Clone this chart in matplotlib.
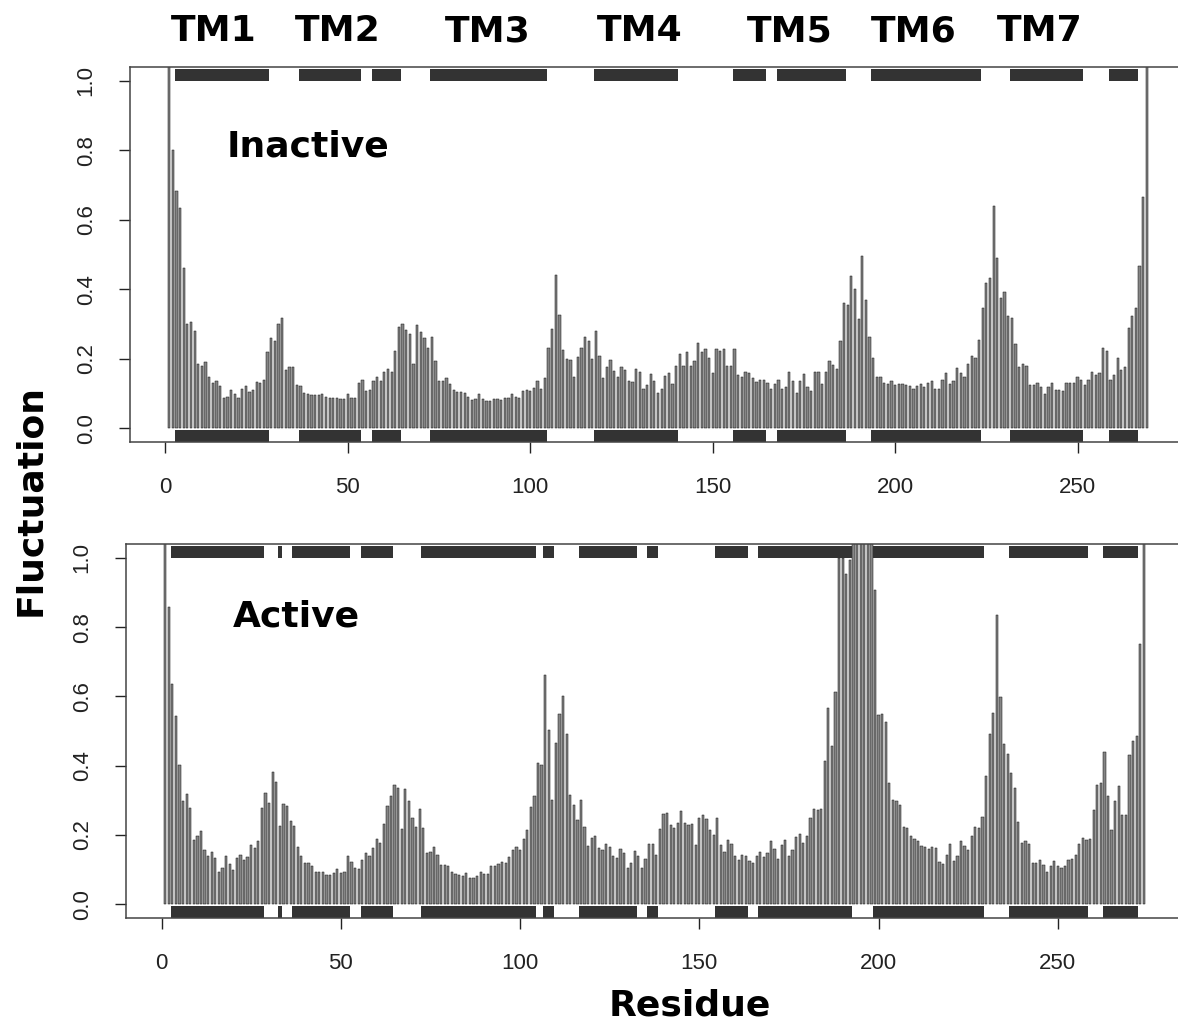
import matplotlib
matplotlib.use('Agg')
import numpy as np
import matplotlib.pyplot as plt
from matplotlib.patches import Rectangle


# per-residue fluctuations (values above 1 are clipped by the axes)
inactive = [
    1.5, 0.80, 0.684, 0.633, 0.46, 0.30, 0.306, 0.28, 0.186, 0.18,
    0.19, 0.148, 0.13, 0.136, 0.12, 0.088, 0.09, 0.11, 0.098, 0.088,
    0.114, 0.12, 0.105, 0.11, 0.134, 0.13, 0.138, 0.22, 0.26, 0.25,
    0.30, 0.318, 0.167, 0.177, 0.177, 0.124, 0.12, 0.10, 0.098, 0.096,
    0.096, 0.096, 0.098, 0.09, 0.088, 0.088, 0.086, 0.083, 0.085, 0.098,
    0.086, 0.088, 0.13, 0.138, 0.107, 0.11, 0.136, 0.148, 0.136, 0.162,
    0.17, 0.162, 0.222, 0.292, 0.30, 0.284, 0.27, 0.186, 0.296, 0.278,
    0.26, 0.232, 0.263, 0.193, 0.135, 0.136, 0.143, 0.127, 0.11, 0.105,
    0.104, 0.10, 0.09, 0.08, 0.083, 0.097, 0.083, 0.077, 0.077, 0.085,
    0.083, 0.08, 0.087, 0.088, 0.097, 0.09, 0.087, 0.107, 0.11, 0.107,
    0.116, 0.136, 0.114, 0.143, 0.23, 0.286, 0.44, 0.326, 0.225, 0.20,
    0.196, 0.148, 0.205, 0.23, 0.263, 0.25, 0.198, 0.28, 0.208, 0.145,
    0.175, 0.196, 0.165, 0.146, 0.175, 0.167, 0.136, 0.134, 0.169, 0.162,
    0.112, 0.124, 0.156, 0.136, 0.10, 0.114, 0.15, 0.16, 0.126, 0.18,
    0.213, 0.18, 0.22, 0.179, 0.193, 0.246, 0.22, 0.228, 0.203, 0.16,
    0.227, 0.222, 0.227, 0.18, 0.179, 0.227, 0.153, 0.148, 0.162, 0.158,
    0.143, 0.134, 0.138, 0.14, 0.129, 0.114, 0.127, 0.14, 0.114, 0.119,
    0.162, 0.136, 0.10, 0.136, 0.155, 0.119, 0.107, 0.162, 0.162, 0.126,
    0.162, 0.193, 0.182, 0.169, 0.25, 0.36, 0.354, 0.438, 0.40, 0.313,
    0.497, 0.369, 0.263, 0.203, 0.148, 0.148, 0.13, 0.127, 0.135, 0.124,
    0.126, 0.126, 0.124, 0.121, 0.114, 0.121, 0.126, 0.117, 0.129, 0.135,
    0.112, 0.112, 0.14, 0.158, 0.127, 0.136, 0.172, 0.16, 0.148, 0.184,
    0.207, 0.203, 0.254, 0.345, 0.419, 0.431, 0.641, 0.491, 0.374, 0.391,
    0.323, 0.318, 0.241, 0.175, 0.186, 0.179, 0.124, 0.124, 0.131, 0.117,
    0.098, 0.119, 0.131, 0.111, 0.11, 0.108, 0.131, 0.131, 0.131, 0.148,
    0.138, 0.124, 0.14, 0.162, 0.153, 0.16, 0.232, 0.223, 0.14, 0.153,
    0.201, 0.167, 0.175, 0.287, 0.323, 0.345, 0.468, 0.667, 1.5,
]

active = [
    1.5, 0.857, 0.636, 0.544, 0.403, 0.297, 0.318, 0.279, 0.186, 0.198,
    0.21, 0.157, 0.138, 0.152, 0.133, 0.094, 0.104, 0.138, 0.116, 0.099,
    0.133, 0.143, 0.128, 0.135, 0.17, 0.162, 0.183, 0.279, 0.321, 0.292,
    0.382, 0.353, 0.226, 0.289, 0.282, 0.241, 0.226, 0.165, 0.14, 0.118,
    0.118, 0.111, 0.094, 0.094, 0.094, 0.083, 0.085, 0.09, 0.101, 0.09,
    0.092, 0.138, 0.123, 0.104, 0.101, 0.128, 0.147, 0.138, 0.161, 0.189,
    0.176, 0.231, 0.282, 0.311, 0.343, 0.335, 0.218, 0.333, 0.299, 0.25,
    0.224, 0.275, 0.22, 0.147, 0.152, 0.165, 0.143, 0.114, 0.112, 0.109,
    0.092, 0.087, 0.083, 0.08, 0.09, 0.075, 0.075, 0.08, 0.092, 0.087,
    0.087, 0.109, 0.109, 0.116, 0.121, 0.118, 0.135, 0.157, 0.166, 0.157,
    0.188, 0.215, 0.28, 0.311, 0.408, 0.403, 0.663, 0.504, 0.30, 0.464,
    0.55, 0.60, 0.49, 0.316, 0.287, 0.242, 0.30, 0.222, 0.167, 0.19,
    0.197, 0.162, 0.157, 0.173, 0.164, 0.138, 0.133, 0.159, 0.149, 0.104,
    0.119, 0.154, 0.138, 0.104, 0.131, 0.174, 0.174, 0.143, 0.217, 0.26,
    0.263, 0.229, 0.22, 0.234, 0.268, 0.234, 0.229, 0.231, 0.172, 0.25,
    0.256, 0.247, 0.215, 0.2, 0.25, 0.172, 0.15, 0.186, 0.174, 0.138,
    0.128, 0.141, 0.138, 0.126, 0.12, 0.138, 0.152, 0.135, 0.147, 0.181,
    0.16, 0.131, 0.17, 0.186, 0.138, 0.157, 0.193, 0.203, 0.176, 0.196,
    0.249, 0.276, 0.273, 0.276, 0.414, 0.566, 0.456, 0.613, 1.0, 1.0,
    0.954, 0.995, 1.5, 1.5, 1.5, 1.5, 1.5, 1.5, 0.908, 0.547,
    0.55, 0.525, 0.35, 0.3, 0.297, 0.285, 0.224, 0.22, 0.196, 0.189,
    0.181, 0.167, 0.165, 0.16, 0.165, 0.162, 0.123, 0.116, 0.143, 0.173,
    0.125, 0.14, 0.183, 0.169, 0.157, 0.198, 0.224, 0.219, 0.253, 0.369,
    0.491, 0.552, 0.834, 0.597, 0.462, 0.434, 0.379, 0.335, 0.237, 0.176,
    0.183, 0.173, 0.118, 0.118, 0.128, 0.114, 0.094, 0.109, 0.125, 0.109,
    0.104, 0.109, 0.128, 0.131, 0.143, 0.173, 0.191, 0.186, 0.189, 0.273,
    0.343, 0.35, 0.439, 0.311, 0.215, 0.297, 0.34, 0.258, 0.258, 0.432,
    0.472, 0.485, 0.75, 1.5,
]

# helix segments (first and last residue)
inactive_helix_start = [3, 37, 57, 73, 118, 156, 168, 194, 232, 259]
inactive_helix_end = [28, 53, 64, 104, 140, 164, 186, 223, 251, 266]
active_helix_start = [3, 33, 37, 56, 73, 107, 117, 136, 155, 167, 199, 237, 263]
active_helix_end = [28, 33, 52, 64, 104, 109, 132, 138, 163, 192, 229, 258, 272]

tm_labels = ['TM1', 'TM2', 'TM3', 'TM4', 'TM5', 'TM6', 'TM7']
x_ticks = [0, 50, 100, 150, 200, 250]
y_ticks = [0.0, 0.2, 0.4, 0.6, 0.8, 1.0]

W, H = 1178, 1023
BAR = '#858585'
SSE = '#333333'
TICK_FONT = 'Liberation Sans'
BOLD_FONT = 'DejaVu Sans'


def px_box(left, top, right, bottom):
    # pixel box -> figure fraction rect
    return [left / W, 1 - bottom / H, (right - left) / W, (bottom - top) / H]


def draw_panel(ax, values, h_start, h_end):
    n = len(values)
    res = np.arange(1, n + 1)
    pad = 0.04 * (n - 1)
    ax.set_xlim(1 - pad, n + pad)
    ax.set_ylim(-0.04, 1.04)

    ax.bar(res, values, width=0.62, color=BAR, edgecolor='#101010', linewidth=0.35)

    # secondary structure strips along the top and bottom
    for s, e in zip(h_start, h_end):
        ax.add_patch(Rectangle((s - 0.5, 1.0), e - s + 1, 0.033, facecolor=SSE,
                               edgecolor='none'))
        ax.add_patch(Rectangle((s - 0.5, -0.04), e - s + 1, 0.034, facecolor=SSE,
                               edgecolor='none'))

    ax.set_xticks(x_ticks)
    ax.set_xticklabels([str(t) for t in x_ticks], fontfamily=TICK_FONT, fontsize=16)
    ax.set_yticks(y_ticks)
    ax.set_yticklabels([f'{t:.1f}' for t in y_ticks], fontfamily=TICK_FONT, fontsize=16,
                       rotation=90, va='center')
    ax.tick_params(axis='x', direction='out', length=8, width=1, pad=17, colors='#222222')
    ax.tick_params(axis='y', direction='out', length=8, width=1, pad=16, colors='#222222')
    for sp in ax.spines.values():
        sp.set_color('#444444')
        sp.set_linewidth(1.1)
    # the right edge of the box is cut off in the original
    ax.spines['right'].set_visible(False)


fig = plt.figure(figsize=(W / 100, H / 100), dpi=100)
ax_top = fig.add_axes(px_box(130, 67, 1186, 442))
ax_bot = fig.add_axes(px_box(126, 544, 1183, 918))

draw_panel(ax_top, inactive, inactive_helix_start, inactive_helix_end)
draw_panel(ax_bot, active, active_helix_start, active_helix_end)

ax_top.text(16.7, 0.81, 'Inactive', fontfamily=BOLD_FONT, fontweight='bold',
            fontsize=26, va='center', ha='left')
ax_bot.text(19.8, 0.83, 'Active', fontfamily=BOLD_FONT, fontweight='bold',
            fontsize=26, va='center', ha='left')

tm_px = [214, 338, 488, 640, 790, 914, 1040]
for lab, x in zip(tm_labels, tm_px):
    fig.text(x / W, 1 - 31 / H, lab, fontfamily=BOLD_FONT, fontweight='bold',
             fontsize=26, ha='center', va='center')

fig.text(30 / W, 1 - 500 / H, 'Fluctuation', rotation=90, fontfamily=BOLD_FONT,
         fontweight='bold', fontsize=26, ha='center', va='center')
fig.text(690 / W, 1 - 1005 / H, 'Residue', fontfamily=BOLD_FONT,
         fontweight='bold', fontsize=26, ha='center', va='center')

fig.savefig('out.png', dpi=100)
